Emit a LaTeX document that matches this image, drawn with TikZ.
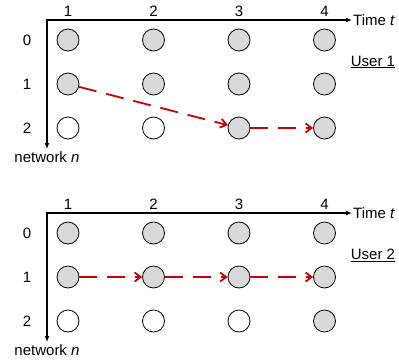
\documentclass[tikz,border=0pt]{standalone}
\usepackage{fontspec}
\setmainfont{Liberation Sans}
\usetikzlibrary{arrows.meta}
\begin{document}
\begin{tikzpicture}[x=1pt,y=-1pt,every node/.style={font=\fontsize{15}{18}\selectfont}]
		\tikzstyle{busy}=[circle,draw,line width=0.8pt,fill=black!15,minimum size=22pt,inner sep=0pt]
		\tikzstyle{free}=[busy,fill=white]
		\tikzstyle{hop}=[draw=red!80!black,line width=1.8pt,dash pattern=on 18pt off 10pt,-{Straight Barb[length=6pt,width=9pt]}]
	\useasboundingbox (0,0) rectangle (399,360);
	\newcommand*{\slots}[2]{
		\coordinate (o) at (47,20);
		\coordinate (nend) at (47,149);
		\node[anchor=west,inner sep=1pt] (time) at (352,20) {Time \textit{t}};
		\node (netlab) at (47,157) {network \textit{n}};
		\node (user) at (373,62) {\underline{User #1}};
		\draw[line width=1.2pt,{Latex[length=6pt,width=5pt]}-{Latex[length=6pt,width=5pt]}] (nend) -- (o) -- (time.west);
		\foreach \n in {0,1,2}
			\node (row_\n) at (27,40+44*\n) {\n};
		\foreach \t in {1,...,4}{
			\node (col_\t) at (68+85.5*\t-85.5,11) {\t};
			\node[busy] (s_\t_0) at (68+85.5*\t-85.5,40) {};
			\node[busy] (s_\t_1) at (68+85.5*\t-85.5,84) {};
		}
		\foreach \t/\f in {#2}
			\node[\f] (s_\t_2) at (68+85.5*\t-85.5,128) {};
	}
	\begin{scope}
		\slots{1}{1/free,2/free,3/busy,4/busy}
		\draw[hop] (s_1_1) -- (s_3_2);
		\draw[hop] (s_3_2) -- (s_4_2);
	\end{scope}
	\begin{scope}[shift={(0,193)}]
		\slots{2}{1/free,2/free,3/free,4/busy}
		\draw[hop] (s_1_1) -- (s_2_1);
		\draw[hop] (s_2_1) -- (s_3_1);
		\draw[hop] (s_3_1) -- (s_4_1);
	\end{scope}
\end{tikzpicture}
\end{document}
